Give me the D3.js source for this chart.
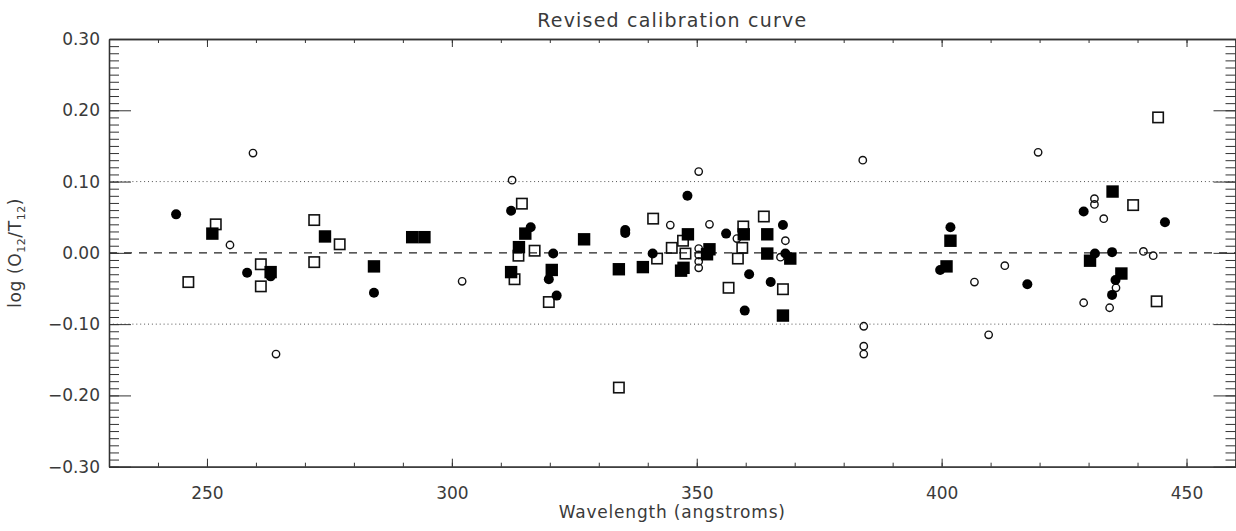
<!DOCTYPE html>
<html>
<head>
<meta charset="utf-8">
<script src="https://cdn.jsdelivr.net/npm/d3@7"></script>
<style>
  html, body { margin: 0; padding: 0; background: #fff; }
  svg { display: block; }
  text { font-family: "DejaVu Sans", sans-serif; fill: #3a3a3a; }
</style>
</head>
<body>
<svg id="chart" width="1236" height="531"></svg>
<script>
// ---- data (wavelength in angstroms, log(O12/T12)) ----
const filledCircles = [
  [243.7,0.054],[258.2,-0.028],[263.0,-0.033],[284.1,-0.056],[312.1,0.059],[316.1,0.036],
  [320.7,-0.001],[319.8,-0.037],[321.4,-0.060],[335.4,0.028],[335.4,0.032],[341.0,-0.001],
  [348.1,0.080],[356.0,0.027],[360.7,-0.030],[359.8,-0.081],[365.1,-0.041],[367.6,0.039],
  [368.1,-0.001],[399.7,-0.024],[401.8,0.036],[417.5,-0.044],[429.0,0.058],[431.3,-0.001],
  [434.8,0.001],[435.5,-0.038],[434.8,-0.059],[445.6,0.043]
];
const openCircles = [
  [259.4,0.140],[254.7,0.011],[264.1,-0.142],[302.1,-0.040],[312.3,0.102],[344.6,0.039],
  [350.4,0.114],[350.4,0.006],[350.4,-0.003],[350.4,-0.012],[350.4,-0.021],[352.6,0.040],
  [358.2,0.020],[368.1,0.017],[367.1,-0.006],[383.9,0.130],[384.1,-0.103],[384.1,-0.131],
  [384.1,-0.142],[406.7,-0.041],[409.6,-0.115],[412.9,-0.018],[419.7,0.141],[431.2,0.076],
  [431.2,0.068],[433.1,0.048],[429.0,-0.070],[434.3,-0.077],[435.6,-0.049],[441.2,0.002],
  [443.2,-0.004]
];
const filledSquares = [
  [251.1,0.027],[263.0,-0.027],[274.1,0.023],[284.1,-0.019],[291.9,0.022],[294.4,0.022],
  [315.0,0.027],[313.7,0.008],[312.1,-0.027],[320.4,-0.024],[327.0,0.019],[334.1,-0.023],
  [339.0,-0.020],[348.2,0.026],[346.8,-0.025],[347.3,-0.021],[352.6,0.005],[352.1,-0.002],
  [359.6,0.026],[364.4,0.026],[364.4,-0.001],[369.1,-0.008],[367.6,-0.088],[401.0,-0.019],
  [401.8,0.017],[430.3,-0.011],[434.9,0.086],[436.7,-0.029]
];
const openSquares = [
  [246.2,-0.041],[251.8,0.040],[261.0,-0.016],[261.0,-0.047],[271.9,0.046],[271.9,-0.013],
  [277.1,0.012],[314.3,0.069],[316.9,0.003],[313.6,-0.004],[312.8,-0.037],[319.8,-0.069],
  [334.1,-0.189],[341.1,0.048],[341.9,-0.008],[344.9,0.007],[347.2,0.017],[347.7,-0.001],
  [359.5,0.037],[359.3,0.007],[358.4,-0.008],[356.5,-0.049],[363.7,0.051],[367.6,-0.051],
  [439.1,0.067],[444.2,0.190],[443.9,-0.068]
];
const xTicks = [250, 300, 350, 400, 450];
const yTicks = [-0.30, -0.20, -0.10, 0.00, 0.10, 0.20, 0.30];
const xDomain = [230, 460];
const yDomain = [-0.30, 0.30];
const titleText = "Revised calibration curve";
const xLabelText = "Wavelength (angstroms)";

// ---- layout ----
const svg = d3.select("#chart");
const L = 109, R = 1235.5, T = 39, B = 466.7;
const x = d3.scaleLinear().domain(xDomain).range([L, R]);
const y = d3.scaleLinear().domain(yDomain).range([B, T]);
const axisColor = "#333";

// reference lines
svg.append("line").attr("x1", L).attr("x2", R).attr("y1", y(0)).attr("y2", y(0))
  .attr("stroke", "#222").attr("stroke-width", 1.1).attr("stroke-dasharray", "8,7");
[0.1, -0.1].forEach(v => {
  svg.append("line").attr("x1", L).attr("x2", R).attr("y1", y(v)).attr("y2", y(v))
    .attr("stroke", "#555").attr("stroke-width", 1).attr("stroke-dasharray", "1,2.9");
});

// axes
const gAx = svg.append("g");
const minorX = d3.range(xDomain[0], xDomain[1] + 0.001, 10);
const minorY = d3.range(-30, 31, 1).map(v => v / 100);

function drawAxis(g, axis, pos) {
  const a = g.append("g").attr("transform", pos).call(axis);
  a.selectAll("path, line").attr("stroke", axisColor);
  a.select(".domain").attr("stroke-width", 1.3);
  a.selectAll("text").attr("fill", "#3a3a3a").style("font-size", "17px")
    .style("font-family", "'DejaVu Sans', sans-serif");
  return a;
}
// bottom
drawAxis(gAx, d3.axisBottom(x).tickValues(minorX).tickSize(-4).tickFormat("").tickSizeOuter(0), `translate(0,${B})`);
drawAxis(gAx, d3.axisBottom(x).tickValues(xTicks).tickSize(-8).tickPadding(20).tickFormat(d3.format("d")).tickSizeOuter(0), `translate(0,${B})`);
// top
drawAxis(gAx, d3.axisTop(x).tickValues(minorX).tickSize(-4).tickFormat("").tickSizeOuter(0), `translate(0,${T})`);
drawAxis(gAx, d3.axisTop(x).tickValues(xTicks).tickSize(-8).tickFormat("").tickSizeOuter(0), `translate(0,${T})`);
// left
drawAxis(gAx, d3.axisLeft(y).tickValues(minorY).tickSize(-10).tickFormat("").tickSizeOuter(0), `translate(${L},0)`);
drawAxis(gAx, d3.axisLeft(y).tickValues(yTicks).tickSize(-22).tickPadding(9)
  .tickFormat(d => (d < 0 ? "\u2212" : "") + Math.abs(d).toFixed(2)).tickSizeOuter(0), `translate(${L},0)`);
// right
drawAxis(gAx, d3.axisRight(y).tickValues(minorY).tickSize(-10).tickFormat("").tickSizeOuter(0), `translate(${R},0)`);
drawAxis(gAx, d3.axisRight(y).tickValues(yTicks).tickSize(-22).tickFormat("").tickSizeOuter(0), `translate(${R},0)`);

// marks
const gm = svg.append("g");
gm.selectAll("rect.os").data(openSquares).join("rect").attr("class", "os")
  .attr("x", d => x(d[0]) - 5.2).attr("y", d => y(d[1]) - 5.2)
  .attr("width", 10.4).attr("height", 10.4)
  .attr("fill", "none").attr("stroke", "#111").attr("stroke-width", 1.6);
gm.selectAll("circle.oc").data(openCircles).join("circle").attr("class", "oc")
  .attr("cx", d => x(d[0])).attr("cy", d => y(d[1])).attr("r", 3.7)
  .attr("fill", "none").attr("stroke", "#111").attr("stroke-width", 1.4);
gm.selectAll("rect.fs").data(filledSquares).join("rect").attr("class", "fs")
  .attr("x", d => x(d[0]) - 6.2).attr("y", d => y(d[1]) - 6.2)
  .attr("width", 12.4).attr("height", 12.4).attr("fill", "#000");
gm.selectAll("circle.fc").data(filledCircles).join("circle").attr("class", "fc")
  .attr("cx", d => x(d[0])).attr("cy", d => y(d[1])).attr("r", 5)
  .attr("fill", "#000");

// titles
svg.append("text").attr("x", (L + R) / 2).attr("y", 27).attr("text-anchor", "middle")
  .style("font-size", "19px").style("letter-spacing", "1.2px").text(titleText);
svg.append("text").attr("x", (L + R) / 2).attr("y", 518).attr("text-anchor", "middle")
  .style("font-size", "17px").style("letter-spacing", "0.8px").text(xLabelText);
const yl = svg.append("text").attr("transform", `translate(21,${(T + B) / 2}) rotate(-90)`)
  .attr("text-anchor", "middle").style("font-size", "17px").style("letter-spacing", "0.6px");
yl.append("tspan").text("log (O");
yl.append("tspan").attr("dy", 4).style("font-size", "11px").text("12");
yl.append("tspan").attr("dy", -4).text("/T");
yl.append("tspan").attr("dy", 4).style("font-size", "11px").text("12");
yl.append("tspan").attr("dy", -4).text(")");
</script>
</body>
</html>
